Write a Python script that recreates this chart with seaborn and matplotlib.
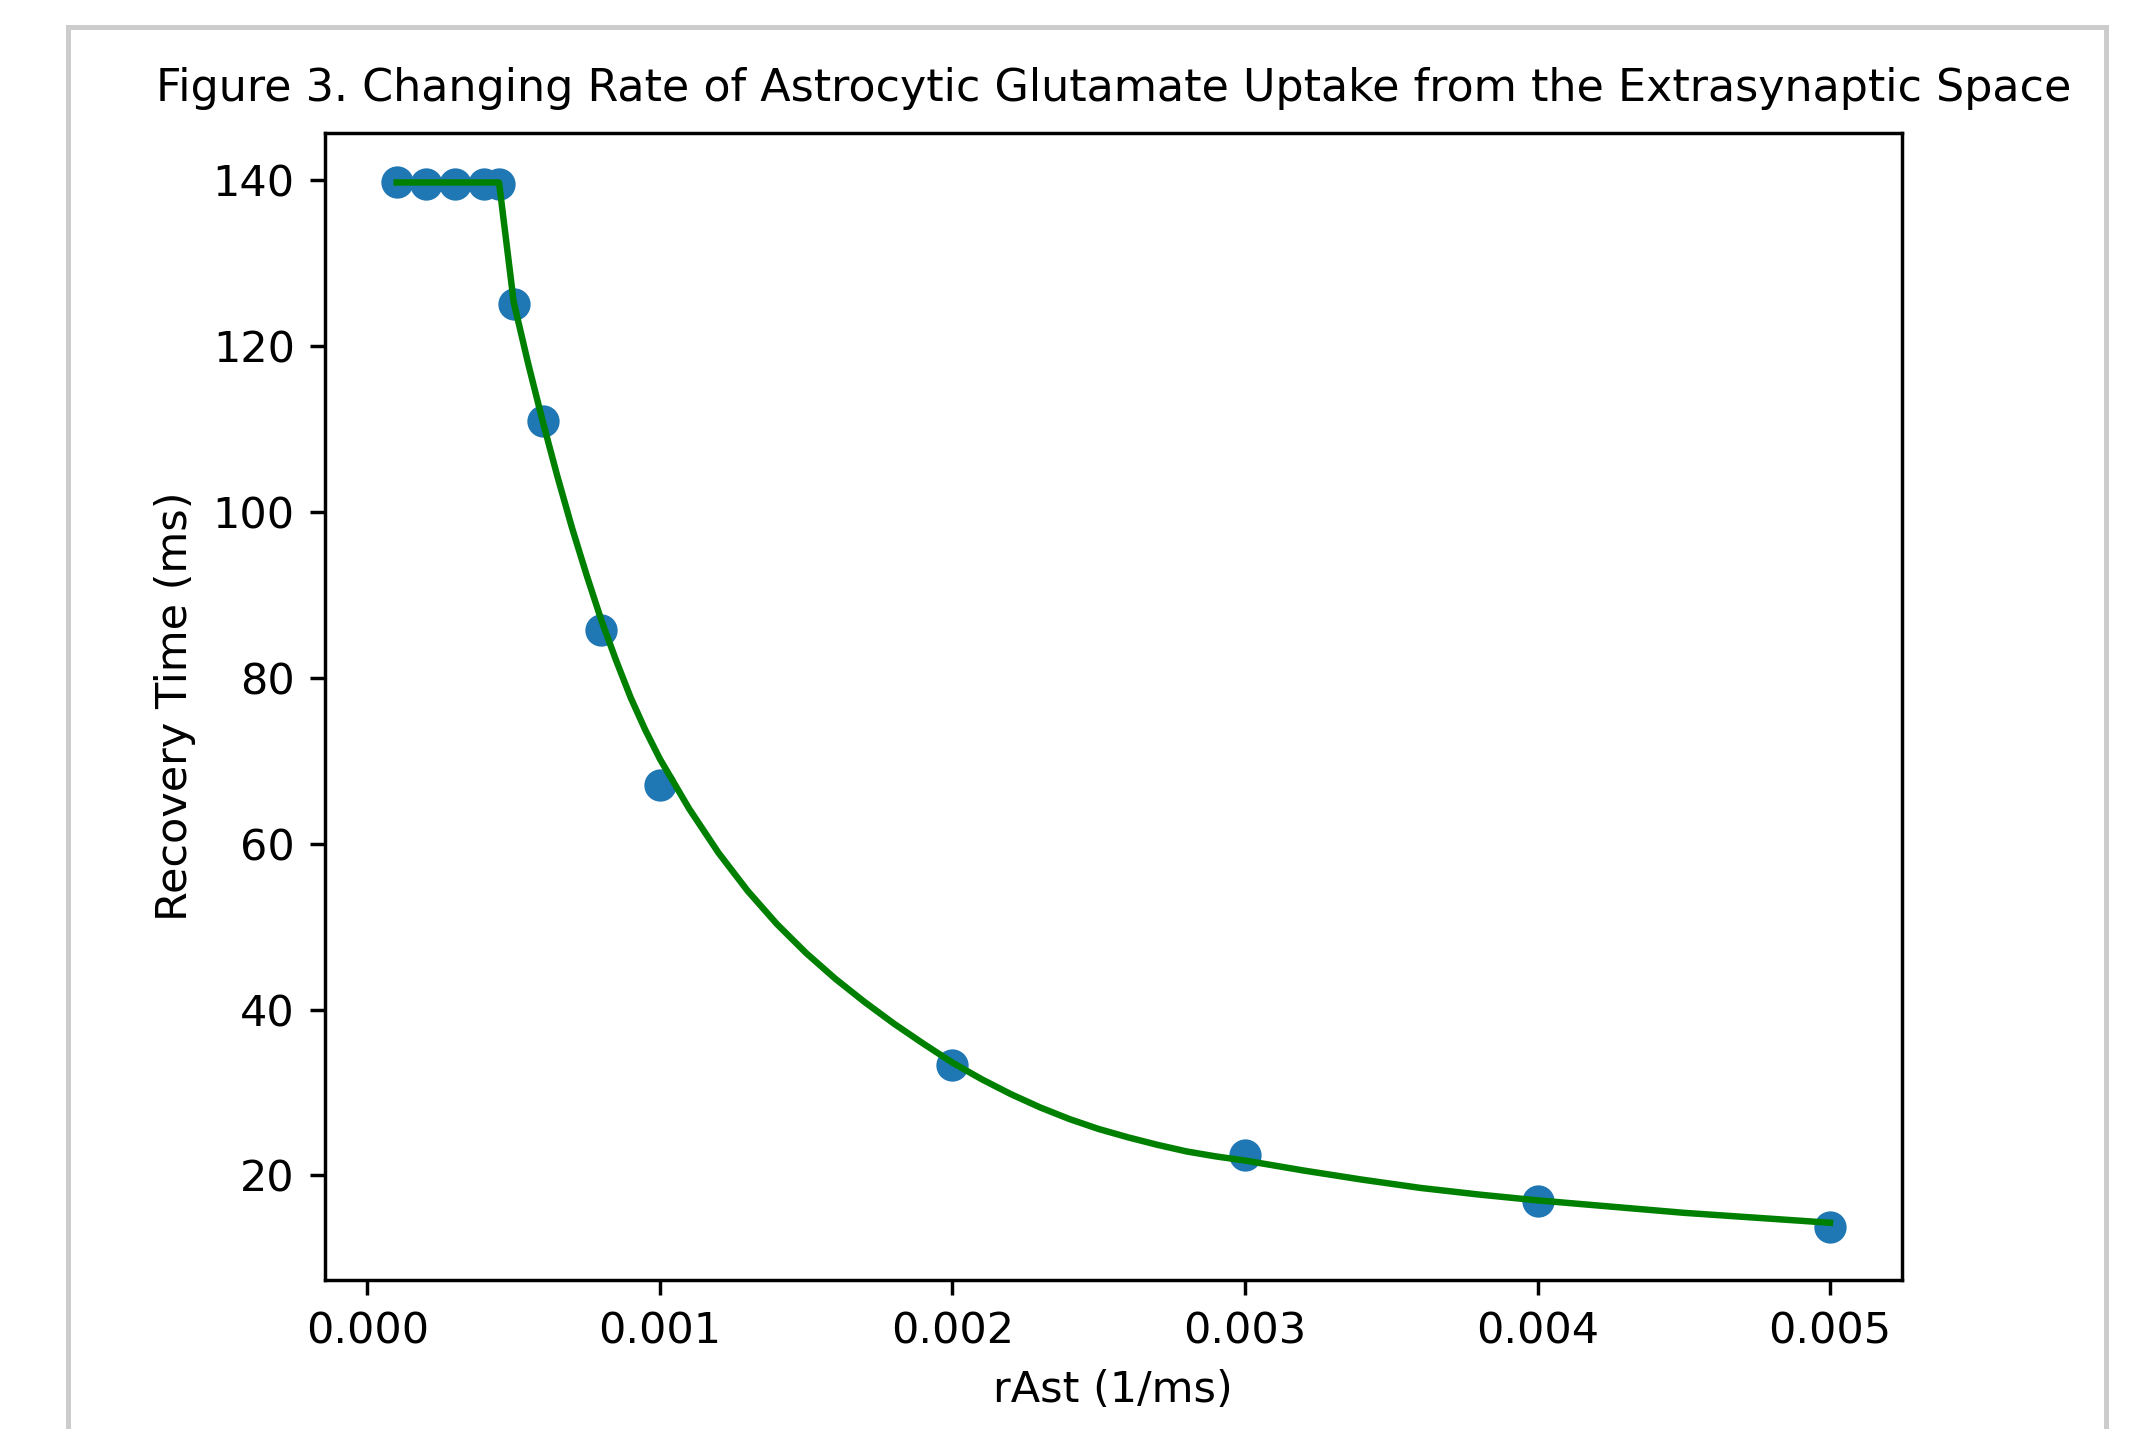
import numpy as np
import pandas as pd
import matplotlib
matplotlib.use("Agg")
import matplotlib.pyplot as plt
from matplotlib.patches import Rectangle
import seaborn as sns

# ---- data ----
r_ast = [0.0001, 0.0002, 0.0003, 0.0004, 0.00045, 0.0005, 0.0006, 0.0008,
         0.001, 0.002, 0.003, 0.004, 0.005]
recovery = [139.7, 139.5, 139.5, 139.5, 139.5, 125.1, 110.9, 85.8,
            67.1, 33.3, 22.5, 16.9, 13.8]

fit_x = [0.0001, 0.00045, 0.0005, 0.00055, 0.0006, 0.00065, 0.0007, 0.00075,
         0.0008, 0.00085, 0.0009, 0.00095, 0.001, 0.0011, 0.0012, 0.0013,
         0.0014, 0.0015, 0.0016, 0.0017, 0.0018, 0.0019, 0.002, 0.0021,
         0.0022, 0.0023, 0.0024, 0.0025, 0.0026, 0.0027, 0.0028, 0.0029,
         0.003, 0.0032, 0.0034, 0.0036, 0.0038, 0.004, 0.0045, 0.005]
fit_y = [139.7, 139.7, 125.3, 117.8, 110.8, 104.2, 98.0, 92.3,
         86.9, 82.1, 77.6, 73.7, 70.2, 64.2, 58.9, 54.3,
         50.3, 46.8, 43.7, 40.9, 38.3, 35.9, 33.6, 31.6,
         29.8, 28.2, 26.8, 25.6, 24.6, 23.7, 22.9, 22.3,
         21.8, 20.6, 19.5, 18.5, 17.7, 17.0, 15.5, 14.3]

title = "Figure 3. Changing Rate of Astrocytic Glutamate Uptake from the Extrasynaptic Space"
xlabel = "rAst (1/ms)"
ylabel = "Recovery Time (ms)"

# ---- figure ----
DPI = 310
W, H = 2136, 1429
fig = plt.figure(figsize=(W / DPI, H / DPI), dpi=DPI)
fig.patch.set_facecolor("white")

# gray frame around the output (screenshot border)
bw = 5
fig.add_artist(Rectangle((67.5 / W, -20 / H), (2105.5 - 67.5) / W, (1402 + 20) / H,
                         transform=fig.transFigure, fill=False,
                         edgecolor="#cccccc", linewidth=bw * 72 / DPI))

ax = fig.add_axes([325 / W, 1 - 1280 / H, (1901.7 - 325) / W, (1280 - 132.7) / H])

pts = pd.DataFrame({"x": r_ast, "y": recovery})
fit = pd.DataFrame({"x": fit_x, "y": fit_y})

sns.scatterplot(data=pts, x="x", y="y", ax=ax, color="#1f77b4",
                edgecolor="#1f77b4", linewidth=1.5, s=36, zorder=1)
sns.lineplot(data=fit, x="x", y="y", ax=ax, color="green", linewidth=1.5,
             sort=False, zorder=2)

ax.set_xlim(-0.000145, 0.005245)
ax.set_ylim(7.4, 145.7)
ax.set_title(title, fontsize=10.3, pad=7.3)
ax.set_xlabel(xlabel, fontsize=10)
ax.set_ylabel(ylabel, fontsize=10)

fig.savefig("out.png", dpi=DPI, facecolor="white")
